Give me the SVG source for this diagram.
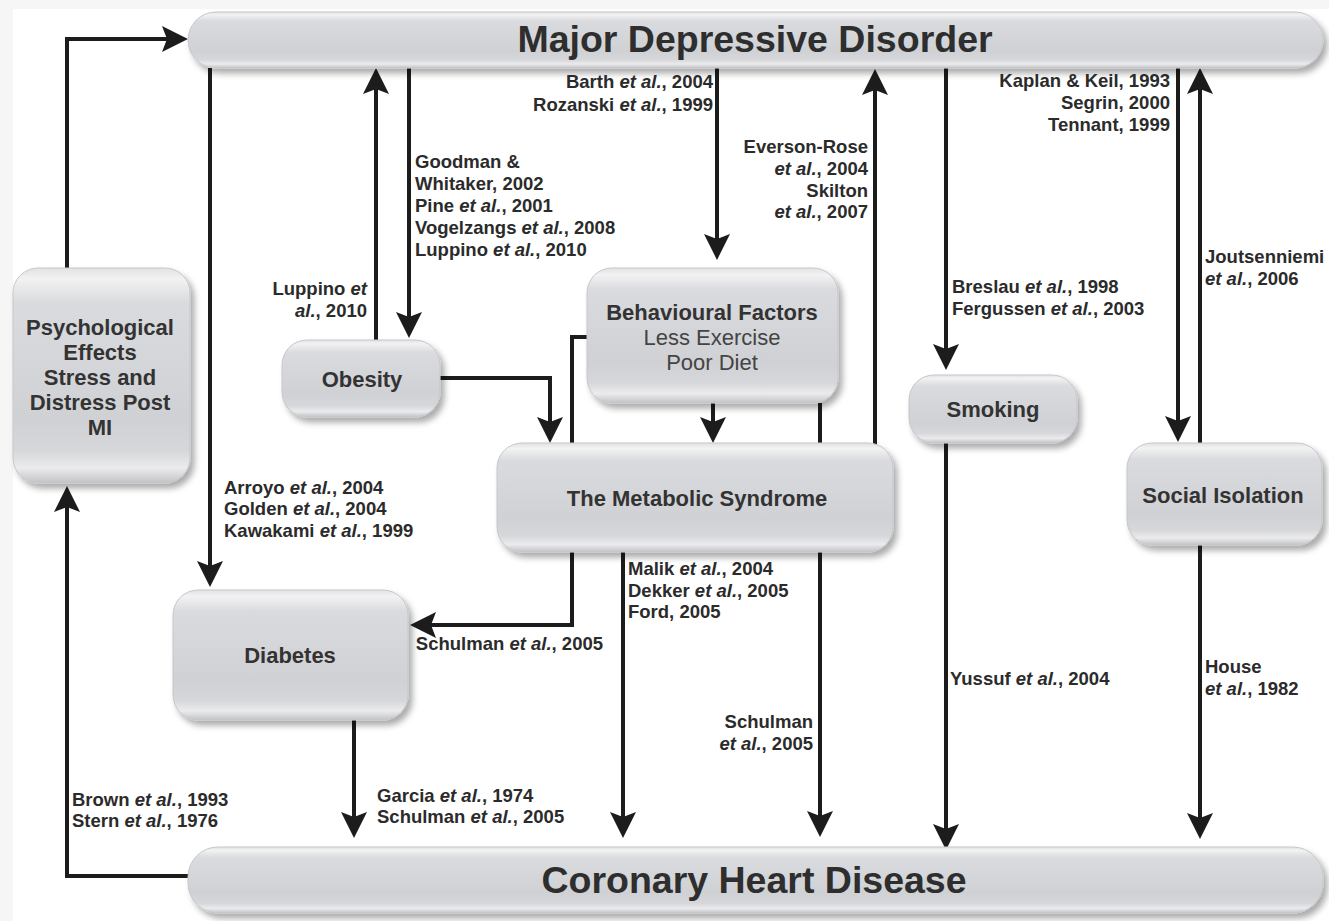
<svg xmlns="http://www.w3.org/2000/svg" width="1329" height="921" viewBox="0 0 1329 921">
<defs>
<style>
.node rect{fill:url(#gb);stroke:#c6c7cb;stroke-width:1;filter:url(#sh)}
.nt{font-family:"Liberation Sans",Arial,sans-serif;font-weight:bold;font-size:22px;fill:#333;text-anchor:middle}
.nr{font-family:"Liberation Sans",Arial,sans-serif;font-weight:normal;font-size:22px;fill:#444;text-anchor:middle}
.big{font-family:"Liberation Sans",Arial,sans-serif;font-weight:bold;font-size:37.5px;fill:#2e2e2e;text-anchor:middle}
.lb{font-family:"Liberation Sans",Arial,sans-serif;font-weight:bold;font-size:18.5px;fill:#2b2b2b}
.r{text-anchor:end}
.i{font-style:italic}
.c path{fill:none;stroke:#1c1c1c;stroke-width:4;marker-end:url(#ah)}
.c path.n{marker-end:none}
</style>
<linearGradient id="gb" x1="0" y1="0" x2="0" y2="1">
<stop offset="0" stop-color="#e2e2e4"/>
<stop offset="0.05" stop-color="#f2f2f3"/>
<stop offset="0.16" stop-color="#dadbde"/>
<stop offset="0.7" stop-color="#d0d1d4"/>
<stop offset="0.85" stop-color="#d6d7da"/>
<stop offset="0.93" stop-color="#ebebed"/>
<stop offset="1" stop-color="#c2c3c7"/>
</linearGradient>
<filter id="sh" x="-10%" y="-10%" width="125%" height="135%">
<feDropShadow dx="4" dy="5" stdDeviation="3" flood-color="#000" flood-opacity="0.33"/>
</filter>
<marker id="ah" viewBox="0 0 26 26" markerWidth="26" markerHeight="26" markerUnits="userSpaceOnUse" refX="12" refY="13" orient="auto">
<path d="M0,0 L26,13 L0,26 L5,13 z" fill="#1c1c1c"/>
</marker>
</defs>
<rect x="0" y="0" width="1329" height="921" fill="#f6f6f6"/>
<rect x="13" y="9" width="1316" height="912" fill="#ffffff"/>

<g id="connectors" class="c">
<path d="M67,268 V39 H174"/>
<path d="M190,876 H67 V500"/>
<path d="M210,68 V573"/>
<path d="M376,340 V82"/>
<path d="M409,68 V324"/>
<path d="M717,68 V246"/>
<path d="M875,445 V83"/>
<path d="M946,68 V356"/>
<path d="M1178,68 V428"/>
<path d="M1200,443 V82"/>
<path d="M440,378 H550 V429"/>
<path d="M713,403 V429"/>
<path d="M587,337 H572 V625 H424"/>
<path d="M820,403 V823"/>
<path d="M623,552 V824"/>
<path d="M354,720 V824"/>
<path d="M946,443 V836"/>
<path d="M1200,545 V825"/>
</g>

<g id="mdd" class="node">
<rect x="188" y="12" width="1135" height="56" rx="28" ry="28"/>
<text class="big" x="755" y="52">Major Depressive Disorder</text>
</g>
<g id="chd" class="node">
<rect x="188" y="847" width="1135" height="66" rx="30" ry="30"/>
<text class="big" x="754" y="893">Coronary Heart Disease</text>
</g>
<g id="psych" class="node">
<rect x="13" y="268" width="177" height="215" rx="25" ry="25"/>
<text class="nt" x="100" y="335">Psychological</text>
<text class="nt" x="100" y="360">Effects</text>
<text class="nt" x="100" y="385">Stress and</text>
<text class="nt" x="100" y="410">Distress Post</text>
<text class="nt" x="100" y="435">MI</text>
</g>
<g id="obesity" class="node">
<rect x="282" y="340" width="158" height="77" rx="25" ry="25"/>
<text class="nt" x="362" y="387">Obesity</text>
</g>
<g id="behav" class="node">
<rect x="587" y="268" width="251" height="135" rx="25" ry="25"/>
<text class="nt" x="712" y="320">Behavioural Factors</text>
<text class="nr" x="712" y="345">Less Exercise</text>
<text class="nr" x="712" y="370">Poor Diet</text>
</g>
<g id="metab" class="node">
<rect x="497" y="443" width="396" height="109" rx="25" ry="25"/>
<text class="nt" x="697" y="506">The Metabolic Syndrome</text>
</g>
<g id="smoking" class="node">
<rect x="909" y="375" width="168" height="68" rx="25" ry="25"/>
<text class="nt" x="993" y="417">Smoking</text>
</g>
<g id="social" class="node">
<rect x="1127" y="443" width="195" height="102" rx="25" ry="25"/>
<text class="nt" x="1223" y="503">Social Isolation</text>
</g>
<g id="diabetes" class="node">
<rect x="173" y="590" width="235" height="130" rx="25" ry="25"/>
<text class="nt" x="290" y="663">Diabetes</text>
</g>

<g id="labels">
<text class="lb r" x="367" y="295">Luppino <tspan class="i">et</tspan></text>
<text class="lb r" x="367" y="317"><tspan class="i">al.</tspan>, 2010</text>

<text class="lb" x="415" y="168">Goodman &amp;</text>
<text class="lb" x="415" y="190">Whitaker, 2002</text>
<text class="lb" x="415" y="212">Pine <tspan class="i">et al.</tspan>, 2001</text>
<text class="lb" x="415" y="234">Vogelzangs <tspan class="i">et al.</tspan>, 2008</text>
<text class="lb" x="415" y="256">Luppino <tspan class="i">et al.</tspan>, 2010</text>

<text class="lb r" x="713" y="88">Barth <tspan class="i">et al.</tspan>, 2004</text>
<text class="lb r" x="713" y="111">Rozanski <tspan class="i">et al.</tspan>, 1999</text>

<text class="lb r" x="868" y="153">Everson-Rose</text>
<text class="lb r" x="868" y="175"><tspan class="i">et al.</tspan>, 2004</text>
<text class="lb r" x="868" y="197">Skilton</text>
<text class="lb r" x="868" y="218"><tspan class="i">et al.</tspan>, 2007</text>

<text class="lb r" x="1170" y="87">Kaplan &amp; Keil, 1993</text>
<text class="lb r" x="1170" y="109">Segrin, 2000</text>
<text class="lb r" x="1170" y="131">Tennant, 1999</text>

<text class="lb" x="1205" y="263">Joutsenniemi</text>
<text class="lb" x="1205" y="285"><tspan class="i">et al.</tspan>, 2006</text>

<text class="lb" x="952" y="293">Breslau <tspan class="i">et al.</tspan>, 1998</text>
<text class="lb" x="952" y="315">Fergussen <tspan class="i">et al.</tspan>, 2003</text>

<text class="lb" x="224" y="494">Arroyo <tspan class="i">et al.</tspan>, 2004</text>
<text class="lb" x="224" y="515">Golden <tspan class="i">et al.</tspan>, 2004</text>
<text class="lb" x="224" y="537">Kawakami <tspan class="i">et al.</tspan>, 1999</text>

<text class="lb" x="628" y="575">Malik <tspan class="i">et al.</tspan>, 2004</text>
<text class="lb" x="628" y="597">Dekker <tspan class="i">et al.</tspan>, 2005</text>
<text class="lb" x="628" y="618">Ford, 2005</text>

<text class="lb r" x="603" y="650">Schulman <tspan class="i">et al.</tspan>, 2005</text>

<text class="lb r" x="813" y="728">Schulman</text>
<text class="lb r" x="813" y="750"><tspan class="i">et al.</tspan>, 2005</text>

<text class="lb" x="377" y="802">Garcia <tspan class="i">et al.</tspan>, 1974</text>
<text class="lb" x="377" y="823">Schulman <tspan class="i">et al.</tspan>, 2005</text>

<text class="lb" x="72" y="806">Brown <tspan class="i">et al.</tspan>, 1993</text>
<text class="lb" x="72" y="827">Stern <tspan class="i">et al.</tspan>, 1976</text>

<text class="lb" x="950" y="685">Yussuf <tspan class="i">et al.</tspan>, 2004</text>

<text class="lb" x="1205" y="673">House</text>
<text class="lb" x="1205" y="695"><tspan class="i">et al.</tspan>, 1982</text>
</g>
</svg>
